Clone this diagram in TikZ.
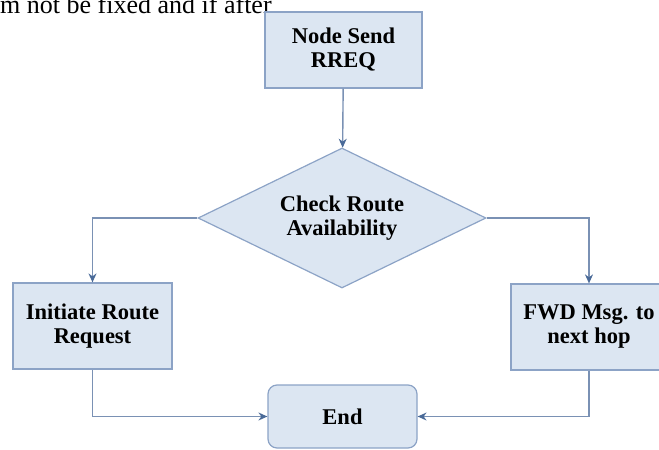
\documentclass[tikz,border=0pt]{standalone}
\usepackage{fontspec}
\setmainfont{Liberation Serif}
\usetikzlibrary{shapes.geometric,arrows.meta}

\definecolor{boxfill}{RGB}{220,230,242}
\definecolor{boxline}{RGB}{140,163,198}
\definecolor{flowline}{RGB}{122,145,180}
\definecolor{tipblue}{RGB}{74,106,152}

\begin{document}
\begin{tikzpicture}[x=1pt,y=-1pt,>={Stealth[length=9pt,width=8pt,color=tipblue]},
	font=\fontsize{22.5}{24}\selectfont\bfseries,
	box/.style={draw=boxline,fill=boxfill,line width=1.2pt,align=center,inner sep=0pt},
	flow/.style={draw=flowline,line width=1.4pt,->}]
	\useasboundingbox (0,0) rectangle (659,450);

	% Running text above
	\node[anchor=base west,inner sep=0pt,font=\fontsize{26}{28}\selectfont] (runtext) at (0,13) {m not be fixed and if after};

	% Boxes
	\node[box,minimum width=157,minimum height=76] (send) at (343.5,50) {Node Send\\RREQ};
	\node[box,diamond,aspect=2,minimum width=288,minimum height=140] (check) at (342,218) {Check Route\\Availability};
	\node[box,minimum width=159,minimum height=86] (init) at (92.5,326) {Initiate Route\\Request};
	\node[box,minimum width=156,minimum height=86] (fwd) at (589,327) {FWD Msg. to\\next hop};
	\node[box,rounded corners=9pt,minimum width=149,minimum height=63] (end) at (342.5,416.5) {End};

	% Arrows
	\draw[flow] (send) -- (check);
	\draw[flow] (check.west) -| (init.north);
	\draw[flow] (check.east) -| (fwd.north);
	\draw[flow] (init.south) |- (end.west);
	\draw[flow] (fwd.south) |- (end.east);
\end{tikzpicture}
\end{document}
